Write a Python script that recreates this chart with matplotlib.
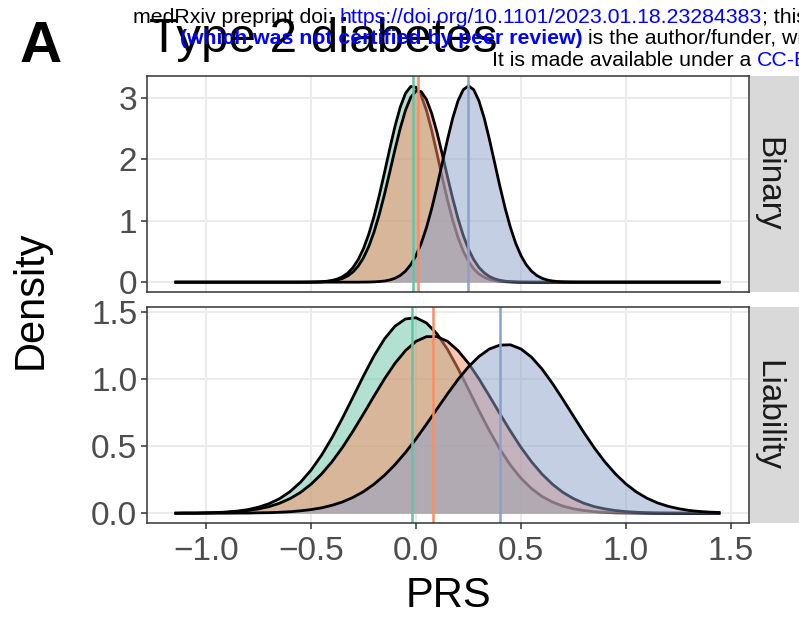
import matplotlib
matplotlib.use("Agg")
import matplotlib.pyplot as plt
import numpy as np

plt.rcParams['font.family'] = ['Liberation Sans', 'DejaVu Sans']

W, H = 799, 617

# fill colours of the three groups (Set2)
colors = ['#66C2A5', '#FC8D62', '#8DA0CB']

# evaluation grids of the density curves
x_binary = np.concatenate([[-1.15], np.round(np.linspace(-0.55, 0.80, 55), 3), [1.45]])
x_liab = np.round(np.linspace(-1.15, 1.45, 53), 3)

# Binary panel densities
bin_green = [0, 0.000, 0.001, 0.002, 0.004, 0.007, 0.015, 0.028, 0.050, 0.088, 0.147,
             0.237, 0.367, 0.545, 0.778, 1.067, 1.406, 1.780, 2.166, 2.532, 2.843,
             3.068, 3.180, 3.167, 3.031, 2.787, 2.462, 2.089, 1.704, 1.335, 1.005,
             0.727, 0.505, 0.337, 0.216, 0.133, 0.079, 0.045, 0.025, 0.013, 0.007,
             0.003, 0.001, 0.000, 0, 0, 0, 0, 0, 0, 0, 0, 0, 0, 0, 0, 0]
bin_orange = [0, 0.000, 0.000, 0.001, 0.002, 0.005, 0.010, 0.018, 0.034, 0.060, 0.102,
              0.166, 0.262, 0.397, 0.578, 0.812, 1.097, 1.427, 1.787, 2.155, 2.500,
              2.792, 3.003, 3.108, 3.096, 2.968, 2.740, 2.435, 2.081, 1.713, 1.358,
              1.036, 0.760, 0.537, 0.366, 0.239, 0.151, 0.092, 0.053, 0.030, 0.016,
              0.008, 0.004, 0.002, 0.001, 0.000, 0, 0, 0, 0, 0, 0, 0, 0, 0, 0, 0]
bin_blue = [0, 0, 0, 0, 0, 0, 0, 0, 0, 0, 0, 0, 0, 0.001, 0.002, 0.005, 0.010, 0.019,
            0.035, 0.063, 0.109, 0.179, 0.284, 0.432, 0.631, 0.887, 1.197, 1.553,
            1.935, 2.316, 2.665, 2.945, 3.127, 3.190, 3.127, 2.945, 2.665, 2.316,
            1.935, 1.553, 1.197, 0.887, 0.631, 0.432, 0.284, 0.179, 0.109, 0.063,
            0.035, 0.019, 0.010, 0.005, 0.002, 0.001, 0.000, 0.000, 0]

# Liability panel densities
liab_green = [0.000, 0.001, 0.001, 0.003, 0.005, 0.009, 0.016, 0.027, 0.045, 0.071,
              0.108, 0.161, 0.231, 0.321, 0.432, 0.563, 0.710, 0.866, 1.024, 1.173,
              1.300, 1.395, 1.449, 1.458, 1.419, 1.338, 1.222, 1.080, 0.924, 0.765,
              0.614, 0.477, 0.358, 0.261, 0.184, 0.125, 0.083, 0.053, 0.033, 0.020,
              0.011, 0.006, 0.003, 0.002, 0.001, 0.000, 0, 0, 0, 0, 0, 0, 0]
liab_orange = [0.000, 0.001, 0.001, 0.002, 0.004, 0.007, 0.012, 0.020, 0.032, 0.049,
               0.074, 0.109, 0.155, 0.216, 0.292, 0.384, 0.491, 0.612, 0.741, 0.873,
               1.002, 1.118, 1.213, 1.282, 1.317, 1.317, 1.282, 1.213, 1.118, 1.002,
               0.873, 0.741, 0.612, 0.491, 0.384, 0.292, 0.216, 0.155, 0.109, 0.074,
               0.049, 0.032, 0.020, 0.012, 0.007, 0.004, 0.002, 0.001, 0.001, 0.000,
               0.000, 0.000, 0.000]
liab_blue = [0.000, 0.000, 0.000, 0.000, 0.000, 0.000, 0.001, 0.001, 0.003, 0.004,
             0.007, 0.011, 0.018, 0.027, 0.040, 0.059, 0.084, 0.118, 0.161, 0.216,
             0.283, 0.362, 0.453, 0.554, 0.664, 0.777, 0.890, 0.997, 1.092, 1.169,
             1.225, 1.254, 1.256, 1.225, 1.164, 1.076, 0.968, 0.848, 0.724, 0.601,
             0.486, 0.382, 0.293, 0.218, 0.158, 0.112, 0.077, 0.052, 0.034, 0.021,
             0.013, 0.008, 0.005]

# group means (vertical lines)
bin_means = [-0.016, 0.011, 0.249]
liab_means = [-0.02, 0.083, 0.40]

xticks = [-1.0, -0.5, 0.0, 0.5, 1.0, 1.5]
xtick_labels = ['\u22121.0', '\u22120.5', '0.0', '0.5', '1.0', '1.5']
bin_yticks = [0, 1, 2, 3]
bin_ylabels = ['0', '1', '2', '3']
liab_yticks = [0, 0.5, 1.0, 1.5]
liab_ylabels = ['0.0', '0.5', '1.0', '1.5']

fig = plt.figure(figsize=(W / 100, H / 100), dpi=100)


def panel(top_px, bottom_px):
    return fig.add_axes([147 / W, 1 - bottom_px / H, 602 / W, (bottom_px - top_px) / H])


ax_b = panel(76, 292)
ax_l = panel(307, 523)

panels = [
    (ax_b, x_binary, [bin_green, bin_orange, bin_blue], bin_means, (-0.16, 3.35),
     bin_yticks, bin_ylabels, 'Binary'),
    (ax_l, x_liab, [liab_green, liab_orange, liab_blue], liab_means, (-0.073, 1.538),
     liab_yticks, liab_ylabels, 'Liability'),
]

for ax, xs, curves, means, ylim, yt, yl, strip in panels:
    for ys, c in zip(curves, colors):
        ax.fill_between(xs, 0, ys, color=c, alpha=0.5, linewidth=0, zorder=2)
        ax.plot(xs, ys, color='black', lw=2.0, zorder=2, solid_capstyle='butt')
    for m, c in zip(means, colors):
        ax.axvline(m, color=c, lw=1.8, zorder=4)
    ax.set_xlim(-1.281, 1.586)
    ax.set_ylim(*ylim)
    ax.set_xticks(xticks)
    ax.set_xticklabels(xtick_labels)
    ax.set_yticks(yt)
    ax.set_yticklabels(yl)
    ax.grid(True, color='#EBEBEB', lw=1.4, zorder=0)
    ax.set_axisbelow(True)
    for s in ax.spines.values():
        s.set_color('#333333')
        s.set_linewidth(1.1)
        s.set_zorder(5)
    ax.tick_params(axis='both', direction='out', length=4, width=1.1, color='#333333',
                   labelsize=24, labelcolor='#4D4D4D', pad=3)
    # facet strip on the right
    pos = ax.get_position()
    sax = fig.add_axes([750 / W, pos.y0, 55 / W, pos.height])
    sax.set_facecolor('#D9D9D9')
    sax.set_xticks([])
    sax.set_yticks([])
    for s in sax.spines.values():
        s.set_visible(False)
    fig.text(768 / W, pos.y0 + pos.height / 2, strip, rotation=-90, ha='center',
             va='center', fontsize=24, color='#1A1A1A')

ax_b.tick_params(axis='x', length=0, labelbottom=False)
ax_l.tick_params(axis='x', pad=5)

fig.text(448 / W, 1 - 607 / H, 'PRS', ha='center', va='baseline', fontsize=30)
fig.text(31 / W, 1 - 300 / H, 'Density', ha='center', va='center', rotation=90,
         fontsize=30)

fig.text(149 / W, 1 - 51.7 / H, 'Type 2 diabetes', ha='left', va='baseline',
         fontsize=35.5)
fig.text(20 / W, 1 - 62 / H, 'A', ha='left', va='baseline', fontsize=42,
         fontweight='bold')

# preprint header
renderer = fig.canvas.get_renderer()
hsize = 15.35
space_px = 0.278 * hsize * 100 / 72


def header_line(x_px, y_px, parts):
    x = x_px
    for s, col, wt, gap in parts:
        t = fig.text(x / W, 1 - y_px / H, s, ha='left', va='baseline', fontsize=hsize,
                     color=col, fontweight=wt, zorder=10)
        bb = t.get_window_extent(renderer)
        x = bb.x1 + (space_px if gap else 0.5)


header_line(133, 22.7, [('medRxiv preprint doi:', 'black', 'normal', True),
                        ('https://doi.org/10.1101/2023.01.18.23284383', '#0000FF', 'normal', False),
                        ('; this version posted', 'black', 'normal', True)])
header_line(180, 44.5, [('(which was not certified by peer review)', '#0000FF', 'bold', True),
                        ('is the author/funder, who has granted medRxiv a license', 'black', 'normal', True)])
header_line(492, 65.7, [('It is made available under a', 'black', 'normal', True),
                        ('CC-BY', '#0000FF', 'normal', True)])

fig.savefig('out.png', dpi=100)
